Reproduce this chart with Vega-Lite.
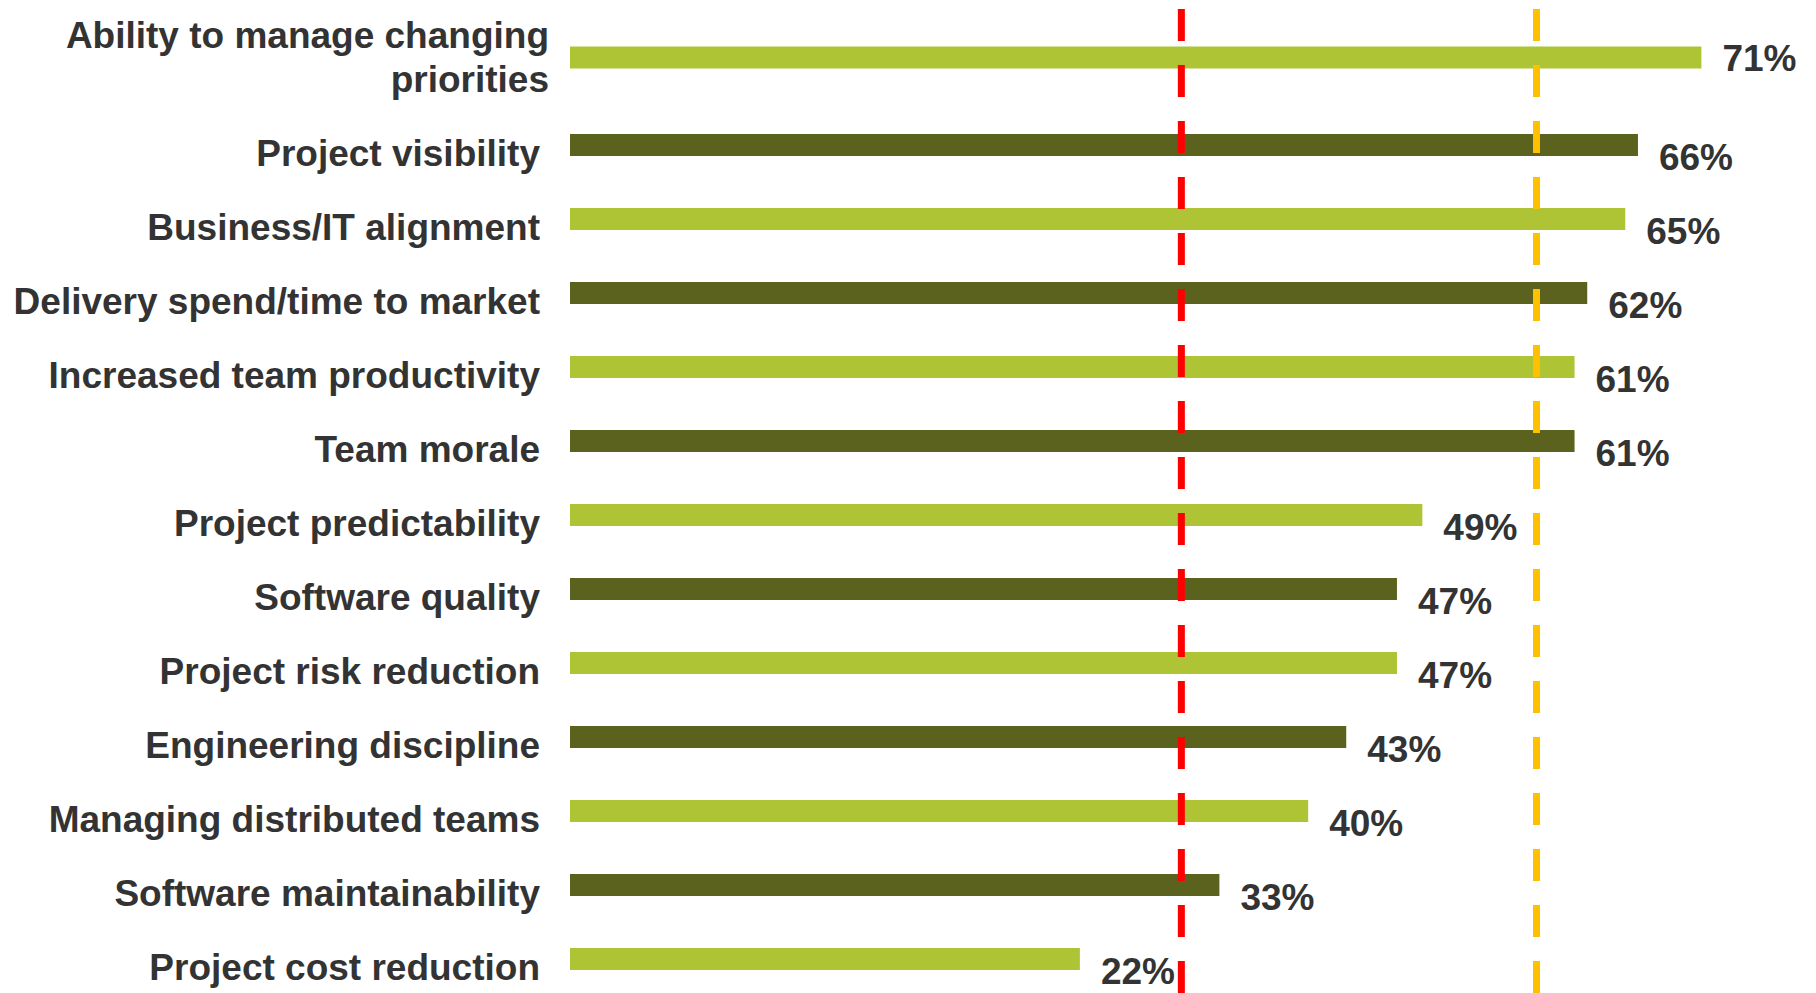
{
  "$schema": "https://vega.github.io/schema/vega-lite/v6.json",
  "width": 1243,
  "height": 984,
  "autosize": {"type": "none"},
  "padding": {"left": 570, "top": 9, "right": 3, "bottom": 0},
  "background": "white",
  "config": {"view": {"stroke": null}},
  "layer": [
    {
      "data": {"values": [
        {"task": "Ability to manage changing priorities", "share": 0.71},
        {"task": "Project visibility", "share": 0.66},
        {"task": "Business/IT alignment", "share": 0.65},
        {"task": "Delivery spend/time to market", "share": 0.62},
        {"task": "Increased team productivity", "share": 0.61},
        {"task": "Team morale", "share": 0.61},
        {"task": "Project predictability", "share": 0.49},
        {"task": "Software quality", "share": 0.47},
        {"task": "Project risk reduction", "share": 0.47},
        {"task": "Engineering discipline", "share": 0.43},
        {"task": "Managing distributed teams", "share": 0.40},
        {"task": "Software maintainability", "share": 0.33},
        {"task": "Project cost reduction", "share": 0.22}
      ]},
      "transform": [{"window": [{"op": "row_number", "as": "idx"}]}],
      "encoding": {
        "y": {
          "field": "task", "type": "nominal", "sort": null,
          "scale": {"paddingInner": 0.7, "paddingOuter": 0.4986, "align": 0.69},
          "axis": null
        },
        "x": {
          "field": "share", "type": "quantitative",
          "scale": {"domain": [-0.182, 0.798], "nice": false, "zero": false},
          "axis": null
        }
      },
      "layer": [
        {
          "mark": {"type": "bar", "yOffset": {"expr": "datum.task == 'Ability to manage changing priorities' ? -13.5 : 0"}},
          "encoding": {
            "x2": {"datum": -0.182},
            "color": {"condition": {"test": "datum.idx % 2 == 1", "value": "#AEC434"}, "value": "#5A621E"}
          }
        },
        {
          "mark": {"type": "text", "align": "left", "baseline": "middle", "dx": 21,
                   "dy": {"expr": "datum.task == 'Ability to manage changing priorities' ? -11 : 14"},
                   "font": "Liberation Sans", "fontWeight": "bold", "fontSize": 37, "fill": "#333333"},
          "encoding": {
            "text": {"field": "share", "type": "quantitative", "format": ".0%"}
          }
        },
        {
          "mark": {"type": "text", "align": "right", "baseline": "middle", "lineHeight": 44,
                   "dx": {"expr": "datum.task == 'Ability to manage changing priorities' ? -21 : -30"},
                   "dy": {"expr": "datum.task == 'Ability to manage changing priorities' ? -34 : 10"},
                   "font": "Liberation Sans", "fontWeight": "bold", "fontSize": 37, "fill": "#333333"},
          "encoding": {
            "x": {"datum": -0.182},
            "text": {
              "condition": {"test": "datum.task == 'Ability to manage changing priorities'", "value": ["Ability to manage changing", "priorities"]},
              "field": "task"
            }
          }
        }
      ]
    },
    {
      "data": {"values": [{"line": "red"}]},
      "mark": {"type": "rule", "stroke": "#FF0000", "strokeWidth": 7, "strokeDash": [32, 24]},
      "encoding": {"x": {"datum": 0.30}}
    },
    {
      "data": {"values": [{"line": "orange"}]},
      "mark": {"type": "rule", "stroke": "#FFC000", "strokeWidth": 7, "strokeDash": [32, 24]},
      "encoding": {"x": {"datum": 0.58}}
    }
  ]
}
